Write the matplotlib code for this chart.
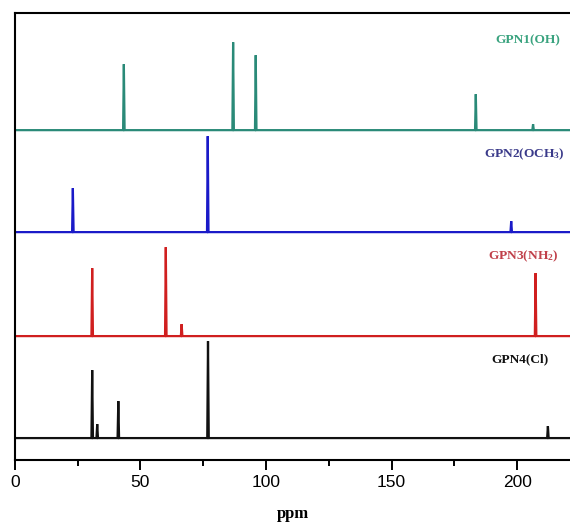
import numpy as np
import matplotlib.pyplot as plt
from matplotlib.ticker import MultipleLocator

# peak positions (ppm) and heights (arbitrary units)
gpn1_ppm = [43.4, 86.9, 95.9, 183.5, 206.3]
gpn1_int = [66, 88, 75, 36, 6]
gpn2_ppm = [23.1, 76.8, 197.6]
gpn2_int = [44, 96, 11]
gpn3_ppm = [30.8, 60.1, 66.4, 207.3]
gpn3_int = [68, 89, 12, 63]
gpn4_ppm = [30.8, 32.8, 41.2, 76.9, 212.2]
gpn4_int = [68, 14, 37, 97, 12]

labels = ['GPN1(OH)', 'GPN2(OCH$_3$)', 'GPN3(NH$_2$)', 'GPN4(Cl)']
line_colors = ['#2a8a78', '#1a1ac8', '#d01f1f', '#111111']
label_colors = ['#3aa37f', '#3a3a8a', '#c0404a', '#111111']
offsets = [330, 228, 124, 22]

plt.rcParams['mathtext.fontset'] = 'custom'
plt.rcParams['mathtext.rm'] = 'Liberation Serif:bold'
plt.rcParams['mathtext.it'] = 'Liberation Serif:bold'
plt.rcParams['mathtext.bf'] = 'Liberation Serif:bold'


def trace(ppm, inten, width=0.3):
    # piecewise stick spectrum: baseline with narrow triangular peaks
    xs = [0.0]
    ys = [0.0]
    for p, h in sorted(zip(ppm, inten)):
        xs += [p - width, p, p + width]
        ys += [0.0, h, 0.0]
    xs.append(225.0)
    ys.append(0.0)
    return np.array(xs), np.array(ys)


fig = plt.figure(figsize=(5.7, 5.27), dpi=100)
ax = fig.add_axes([0.026, 0.127, 0.974, 0.848])

series = [(gpn1_ppm, gpn1_int), (gpn2_ppm, gpn2_int),
          (gpn3_ppm, gpn3_int), (gpn4_ppm, gpn4_int)]
for (ppm, inten), off, c in zip(series, offsets, line_colors):
    x, y = trace(ppm, inten)
    ax.plot(x, y + off, color=c, lw=1.6, solid_joinstyle='miter')

label_pos = [(560, 420), (565, 306), (558, 204), (548, 101)]
for lab, (px, py), c in zip(labels, label_pos, label_colors):
    ax.text((px - 15) / 2.51, py, lab, color=c, ha='right', va='center',
            fontsize=9.6, fontweight='bold', family='Liberation Serif')

ax.set_xlim(0, 221)
ax.set_ylim(0, 447)
ax.set_yticks([])
ax.xaxis.set_major_locator(MultipleLocator(50))
ax.xaxis.set_minor_locator(MultipleLocator(25))
ax.tick_params(axis='x', which='major', direction='out', length=7, width=1.4,
               labelsize=12.5, pad=4)
ax.tick_params(axis='x', which='minor', direction='out', length=4, width=1.4)
for lbl in ax.get_xticklabels():
    lbl.set_family('Liberation Sans')
ax.spines['right'].set_visible(False)
for s in ['left', 'top', 'bottom']:
    ax.spines[s].set_linewidth(1.5)
ax.set_xlabel('ppm', fontsize=12, fontweight='bold', family='Liberation Serif',
              labelpad=11)

fig.savefig('out.png', dpi=100)
